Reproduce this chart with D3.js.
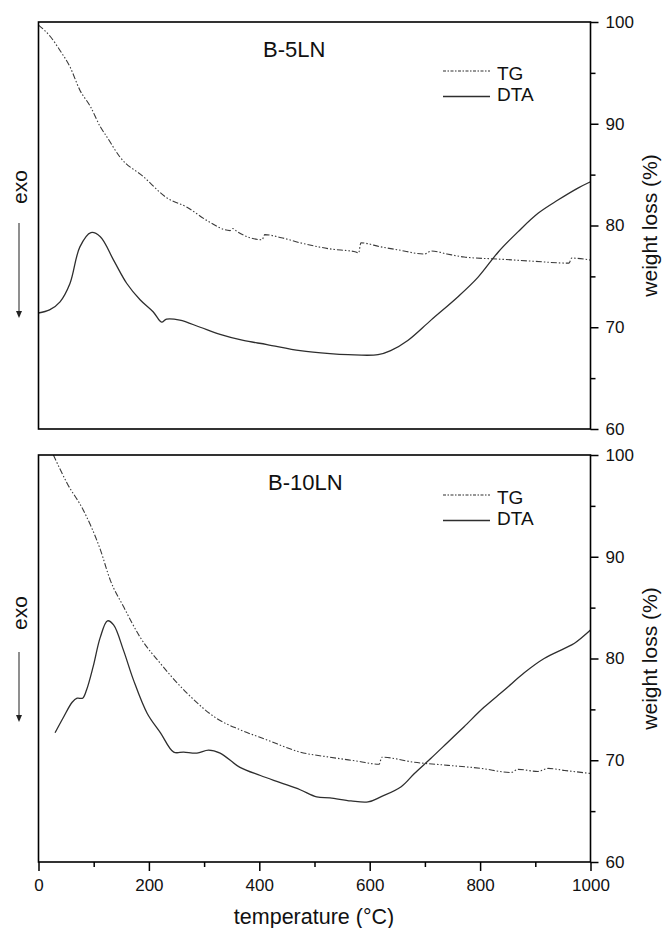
<!DOCTYPE html>
<html>
<head>
<meta charset="utf-8">
<script src="https://cdn.jsdelivr.net/npm/d3@7/dist/d3.min.js"></script>
<style>
  body { margin: 0; background: #fff; }
  svg { display: block; }
  text { font-family: "Liberation Sans", Arial, Helvetica, sans-serif; fill: #111; }
</style>
</head>
<body>
<svg id="chart" width="663" height="928"></svg>
<script>
// ---- axis ticks ----
const tempMajor = [0, 200, 400, 600, 800, 1000];
const tempMinor = [100, 300, 500, 700, 900];
const weightMajor = [60, 70, 80, 90, 100];
const weightMinor = [65, 75, 85, 95];

// ---- legend / titles ----
const seriesNames = ["TG", "DTA"];
const sampleNames = ["B-5LN", "B-10LN"];

// ---- B-5LN: [temperature °C, value] ----
const tgB5 = [[0,99.7],[21,98.6],[39,97.2],[57,95.6],[75,93.3],[94,91.7],[112,89.7],[124,88.7],
  [148,86.7],[190,84.8],[233,82.7],[269,81.8],[305,80.5],[347,79.5],[352,79.7],[360,79.4],
  [405,78.6],[410,79.1],[440,78.8],[474,78.3],[528,77.7],[575,77.4],[580,77.3],[584,78.3],
  [620,77.9],[652,77.6],[699,77.2],[712,77.5],[740,77.2],[771,76.9],[833,76.7],[893,76.5],
  [961,76.3],[966,76.8],[1000,76.6]];
const dtaB5 = [[0,71.4],[20,71.7],[39,72.5],[57,74.3],[75,77.9],[95,79.3],[112,78.9],[136,76.6],
  [160,74.3],[184,72.7],[208,71.5],[223,70.5],[232,70.8],[256,70.7],[293,70.0],[329,69.3],
  [371,68.7],[414,68.3],[474,67.7],[528,67.4],[561,67.3],[615,67.3],[638,67.7],[669,68.7],
  [711,70.7],[760,73.0],[796,74.9],[833,77.4],[869,79.4],[905,81.2],[941,82.5],[978,83.7],
  [1000,84.3]];

// ---- B-10LN: [temperature °C, value] ----
const tgB10 = [[27,100],[52,97.2],[81,94.6],[112,90.7],[130,87.7],[154,85.1],[184,82.1],
  [221,79.5],[269,76.6],[323,74.1],[365,73.0],[414,72.0],[474,70.8],[528,70.3],[579,69.9],
  [617,69.6],[622,70.3],[681,69.8],[742,69.5],[802,69.2],[856,68.8],[869,69.1],[905,68.9],
  [923,69.2],[953,69.0],[1000,68.7]];
const dtaB10 = [[30,72.7],[45,74.2],[61,75.7],[70,76.1],[80,76.1],[87,76.9],[99,79.2],[112,82.1],
  [125,83.7],[136,83.3],[154,80.8],[172,77.9],[197,74.6],[221,72.7],[245,70.8],[263,70.8],
  [287,70.7],[308,71.0],[329,70.7],[365,69.3],[402,68.5],[438,67.8],[474,67.1],[504,66.4],
  [528,66.3],[566,66.0],[597,65.9],[620,66.4],[657,67.4],[681,68.7],[711,70.2],[742,71.8],
  [771,73.3],[807,75.2],[844,76.9],[880,78.6],[916,80.0],[953,81.0],[971,81.5],[1000,82.8]];

const svg = d3.select("#chart");

const left = 38.5, right = 590.5;
const x = d3.scaleLinear().domain([0, 1000]).range([left, right]);

const panels = [
  { name: sampleNames[0], tg: tgB5, dta: dtaB5, top: 22, bottom: 429, xAxis: false,
    titleX: 263, titleY: 57, legY: 71, exoY: 187, arrow: [223, 318] },
  { name: sampleNames[1], tg: tgB10, dta: dtaB10, top: 455, bottom: 862, xAxis: true,
    titleX: 268, titleY: 490, legY: 495, exoY: 613, arrow: [652, 722] }
];

const TG_DASH = "6,2,1.5,2,1.5,2";

panels.forEach((p, i) => {
  const y = d3.scaleLinear().domain([60, 100]).range([p.bottom, p.top]);
  // DTA signal is drawn against an unlabeled left scale of the same span
  const yDta = d3.scaleLinear().domain([60, 100]).range([p.bottom, p.top]);

  const clipId = "clip" + i;
  svg.append("clipPath").attr("id", clipId)
    .append("rect").attr("x", left).attr("y", p.top)
    .attr("width", right - left).attr("height", p.bottom - p.top);

  const g = svg.append("g");

  const lineTg = d3.line().x(d => x(d[0])).y(d => y(d[1])).curve(d3.curveMonotoneX);
  const lineDta = d3.line().x(d => x(d[0])).y(d => yDta(d[1])).curve(d3.curveCatmullRom.alpha(0.5));

  g.append("path").datum(p.tg).attr("clip-path", `url(#${clipId})`)
    .attr("d", lineTg).attr("fill", "none").attr("stroke", "#3a3a3a")
    .attr("stroke-width", 1.1).attr("stroke-dasharray", TG_DASH);
  g.append("path").datum(p.dta).attr("clip-path", `url(#${clipId})`)
    .attr("d", lineDta).attr("fill", "none").attr("stroke", "#2e2e2e")
    .attr("stroke-width", 1.3);

  // frame
  g.append("rect").attr("x", left).attr("y", p.top)
    .attr("width", right - left).attr("height", p.bottom - p.top)
    .attr("fill", "none").attr("stroke", "#000").attr("stroke-width", 1.6);

  // right axis (weight loss)
  const ra = g.append("g").attr("transform", `translate(${right},0)`)
    .call(d3.axisRight(y).tickValues(weightMajor).tickSize(8).tickPadding(7).tickFormat(d3.format("d")));
  ra.select(".domain").remove();
  ra.selectAll("line").attr("stroke", "#000").attr("stroke-width", 1.5);
  ra.selectAll("text").style("font-size", "17px").attr("fill", "#111");
  const ram = g.append("g").attr("transform", `translate(${right},0)`)
    .call(d3.axisRight(y).tickValues(weightMinor).tickSize(5).tickFormat(""));
  ram.select(".domain").remove();
  ram.selectAll("line").attr("stroke", "#000").attr("stroke-width", 1.5);

  // bottom axis (temperature)
  if (p.xAxis) {
    const ba = g.append("g").attr("transform", `translate(0,${p.bottom})`)
      .call(d3.axisBottom(x).tickValues(tempMajor).tickSize(9).tickPadding(8).tickFormat(d3.format("d")));
    ba.select(".domain").remove();
    ba.selectAll("line").attr("stroke", "#000").attr("stroke-width", 1.5);
    ba.selectAll("text").style("font-size", "17px").attr("fill", "#111");
    const bam = g.append("g").attr("transform", `translate(0,${p.bottom})`)
      .call(d3.axisBottom(x).tickValues(tempMinor).tickSize(5).tickFormat(""));
    bam.select(".domain").remove();
    bam.selectAll("line").attr("stroke", "#000").attr("stroke-width", 1.5);
  }

  // sample title
  g.append("text").attr("x", p.titleX).attr("y", p.titleY)
    .style("font-size", "22px").text(p.name);

  // legend
  const lx0 = 443, lx1 = 490;
  const leg = g.append("g");
  seriesNames.forEach((s, k) => {
    const ly = p.legY + k * 25.5;
    leg.append("line").attr("x1", lx0).attr("x2", lx1).attr("y1", ly).attr("y2", ly)
      .attr("stroke", "#2e2e2e").attr("stroke-width", k === 0 ? 1.1 : 1.3)
      .attr("stroke-dasharray", k === 0 ? "3,1.5,1.5,1.5" : null);
    leg.append("text").attr("x", 497).attr("y", ly + (k === 0 ? 9 : 4))
      .style("font-size", "19px").text(s);
  });

  // right axis title
  const midY = (p.top + p.bottom) / 2;
  g.append("text")
    .attr("transform", `translate(657,${midY}) rotate(-90)`)
    .attr("text-anchor", "middle").style("font-size", "21px").text("weight loss (%)");

  // exo direction marker
  g.append("text")
    .attr("transform", `translate(27,${p.exoY}) rotate(-90)`)
    .attr("text-anchor", "middle").style("font-size", "21px").text("exo");
  g.append("line").attr("x1", 19).attr("x2", 19)
    .attr("y1", p.arrow[0]).attr("y2", p.arrow[1] - 5)
    .attr("stroke", "#333").attr("stroke-width", 1.1);
  g.append("path")
    .attr("d", `M${16},${p.arrow[1] - 7}L${22},${p.arrow[1] - 7}L${19},${p.arrow[1]}Z`)
    .attr("fill", "#222");
});

// x axis title
svg.append("text").attr("x", 314).attr("y", 924)
  .attr("text-anchor", "middle").style("font-size", "21.5px")
  .text("temperature (°C)");
</script>
</body>
</html>
